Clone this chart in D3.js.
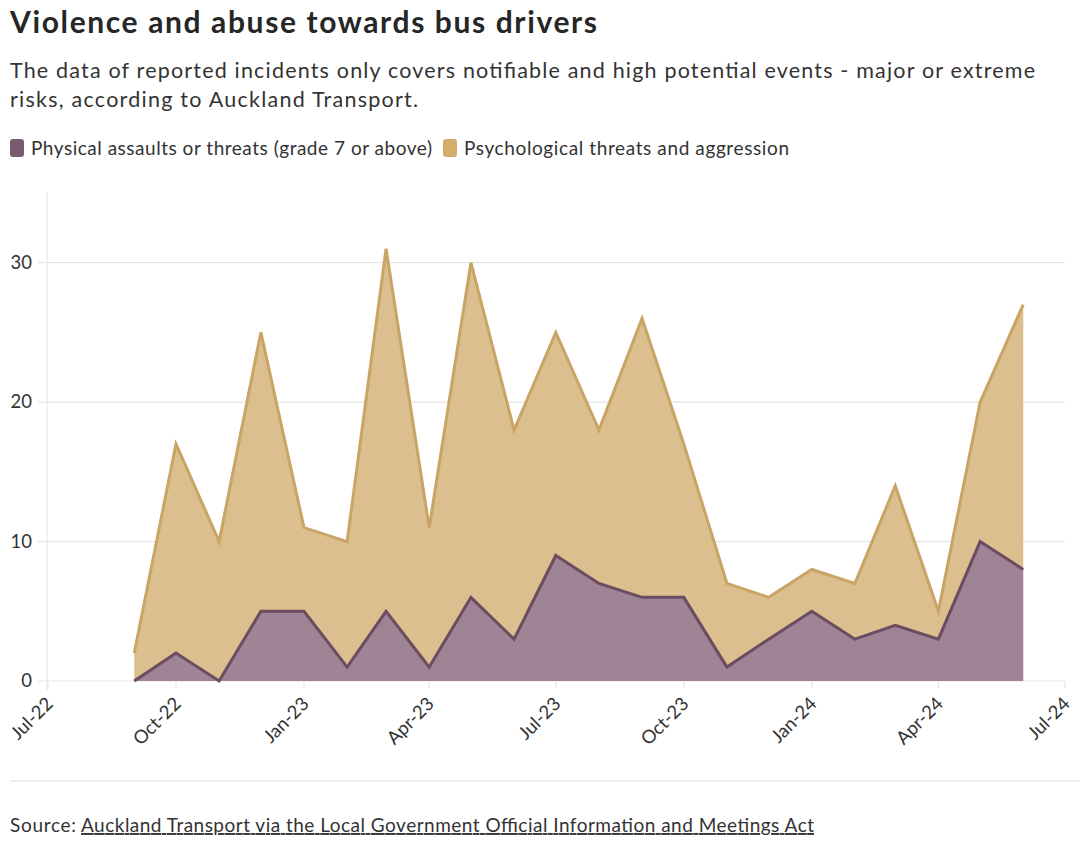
<!DOCTYPE html>
<html>
<head>
<meta charset="utf-8">
<script src="https://cdn.jsdelivr.net/npm/d3@7"></script>
<style>
  html, body { margin: 0; padding: 0; background: #fff; }
  svg { display: block; }
  text { font-family: "Source Sans Pro", Lato, "Noto Sans", sans-serif; }
</style>
</head>
<body>
<svg id="chart" width="1080" height="842"></svg>
<script>
const months = ["2022-09","2022-10","2022-11","2022-12","2023-01","2023-02","2023-03","2023-04","2023-05","2023-06","2023-07","2023-08","2023-09","2023-10","2023-11","2023-12","2024-01","2024-02","2024-03","2024-04","2024-05","2024-06"];
const physical =      [0, 2, 0, 5, 5, 1, 5, 1, 6, 3, 9, 7, 6, 6, 1, 3, 5, 3, 4, 3, 10, 8];
const psychological = [2, 15, 10, 20, 6, 9, 26, 10, 24, 15, 16, 11, 20, 11, 6, 3, 3, 4, 10, 2, 10, 19];
const seriesKeys = ["physical", "psychological"];
const seriesLabels = ["Physical assaults or threats (grade 7 or above)", "Psychological threats and aggression"];
const yTicks = [0, 10, 20, 30];
const xTickDates = ["2022-07","2022-10","2023-01","2023-04","2023-07","2023-10","2024-01","2024-04","2024-07"];

const parse = d3.timeParse("%Y-%m");
const fmt = d3.timeFormat("%b-%y");

const svg = d3.select("#chart");

// Title and subtitle
svg.append("text").attr("x", 10).attr("y", 33)
  .attr("font-size", 30).attr("font-weight", 700).attr("fill", "#262626")
  .attr("textLength", 587).attr("lengthAdjust", "spacing")
  .text("Violence and abuse towards bus drivers");
const sub = ["The data of reported incidents only covers notifiable and high potential events - major or extreme",
             "risks, according to Auckland Transport."];
const subLen = [1025, 408];
sub.forEach((s, i) => svg.append("text").attr("x", 10).attr("y", 78 + i * 29)
  .attr("font-size", 21.5).attr("fill", "#333")
  .attr("textLength", subLen[i]).attr("lengthAdjust", "spacing").text(s));

// Legend
const colors = { physical: { fill: "#9e8494", stroke: "#6b4c60", sw: "#7b5b70" },
                 psychological: { fill: "#dcbf8f", stroke: "#c9a465", sw: "#d4ad6b" } };
const legX = [10, 443];
const legLen = [401, 325];
seriesKeys.forEach((k, i) => {
  svg.append("rect").attr("x", legX[i]).attr("y", 139).attr("width", 14).attr("height", 18)
    .attr("rx", 3).attr("fill", colors[k].sw);
  svg.append("text").attr("x", legX[i] + 21).attr("y", 155)
    .attr("font-size", 19).attr("fill", "#333")
    .attr("textLength", legLen[i]).attr("lengthAdjust", "spacing").text(seriesLabels[i]);
});

// Scales
const x = d3.scaleTime().domain([parse("2022-07"), parse("2024-07")]).range([48, 1065]);
const y = d3.scaleLinear().domain([0, 35]).range([681, 193]);

// Grid
const g = svg.append("g");
g.selectAll("line.grid").data(yTicks.filter(d => d > 0)).join("line")
  .attr("x1", 38).attr("x2", 1065).attr("y1", d => y(d)).attr("y2", d => y(d))
  .attr("stroke", "#e6e6e6").attr("stroke-width", 1.2);
g.append("line").attr("x1", 47).attr("x2", 47).attr("y1", 193).attr("y2", 690)
  .attr("stroke", "#e6e6e6").attr("stroke-width", 1.2);

// Y labels
g.selectAll("text.ylab").data(yTicks).join("text")
  .attr("x", 32).attr("y", d => y(d) + 6).attr("text-anchor", "end")
  .attr("font-size", 18.5).attr("fill", "#333").text(d => d);

// Data
const data = months.map((m, i) => ({ date: parse(m), physical: physical[i], psychological: psychological[i] }));
const stacked = d3.stack().keys(seriesKeys)(data);

const area = d3.area().x(d => x(d.data.date)).y0(d => y(d[0])).y1(d => y(d[1]));
const line = d3.line().x(d => x(d.data.date)).y(d => y(d[1]));

// baseline (x axis)
svg.append("line").attr("x1", 38).attr("x2", 1065).attr("y1", y(0)).attr("y2", y(0))
  .attr("stroke", "#e6e6e6").attr("stroke-width", 1.2);
stacked.forEach(s => {
  svg.append("path").attr("d", area(s)).attr("fill", colors[s.key].fill);
});
stacked.slice().reverse().forEach(s => {
  svg.append("path").attr("d", line(s)).attr("fill", "none")
    .attr("stroke", colors[s.key].stroke).attr("stroke-width", 3).attr("stroke-linejoin", "miter");
});

// X axis ticks and labels
const xt = svg.append("g");
xTickDates.map(parse).forEach(d => {
  xt.append("line").attr("x1", x(d)).attr("x2", x(d)).attr("y1", 682).attr("y2", 688)
    .attr("stroke", "#e3e3e3").attr("stroke-width", 1.2);
  xt.append("text").attr("transform", `translate(${x(d) + 6},${705}) rotate(-45)`)
    .attr("text-anchor", "end").attr("font-size", 18.5).attr("fill", "#333").text(fmt(d));
});

// Separator and source
svg.append("line").attr("x1", 10).attr("x2", 1080).attr("y1", 781).attr("y2", 781)
  .attr("stroke", "#dcdcdc").attr("stroke-width", 1.2);
svg.append("text").attr("x", 10).attr("y", 832).attr("font-size", 19).attr("fill", "#333")
  .attr("textLength", 66).attr("lengthAdjust", "spacing").text("Source:");
svg.append("text").attr("x", 81).attr("y", 832).attr("font-size", 19).attr("fill", "#333")
  .attr("text-decoration", "underline")
  .attr("textLength", 733).attr("lengthAdjust", "spacing")
  .text("Auckland Transport via the Local Government Official Information and Meetings Act");
</script>
</body>
</html>
